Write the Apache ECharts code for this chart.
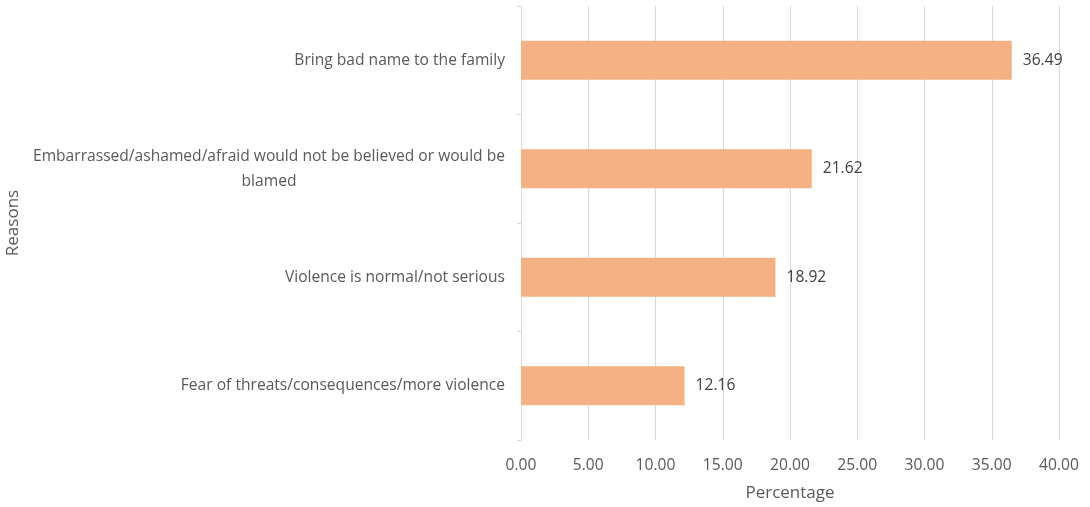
<!DOCTYPE html>
<html>
<head>
<meta charset="utf-8">
<script src="https://cdn.jsdelivr.net/npm/echarts@6/dist/echarts.min.js"></script>
<style>
  html, body { margin: 0; padding: 0; background: #fff; }
  #chart { width: 1090px; height: 507px; }
</style>
</head>
<body>
<div id="chart"></div>
<script>
// top to bottom as shown in the picture
const reasons = [
  'Bring bad name to the family',
  'Embarrassed/ashamed/afraid would not be believed or would be\nblamed',
  'Violence is normal/not serious',
  'Fear of threats/consequences/more violence'
]
const percentages = [36.49, 21.62, 18.92, 12.16]

const textColor = '#595959'
const lineColor = '#d9d9d9'
const fontFamily = '"Open Sans", "Liberation Sans", sans-serif'
const labelSize = 15.6

const chart = echarts.init(document.getElementById('chart'))
chart.setOption({
  animation: false,
  textStyle: { fontFamily: fontFamily },
  grid: {
    left: 521,
    right: 31,
    top: 6,
    bottom: 66,
    containLabel: false
  },
  xAxis: {
    type: 'value',
    min: 0,
    max: 40,
    interval: 5,
    name: 'Percentage',
    nameLocation: 'middle',
    nameGap: 45,
    nameTextStyle: { color: textColor, fontSize: 17, fontFamily: fontFamily },
    axisLine: { show: false },
    axisTick: { show: false },
    axisLabel: {
      color: textColor,
      fontSize: labelSize,
      margin: 18,
      formatter: v => v.toFixed(2)
    },
    splitLine: { show: true, lineStyle: { color: lineColor, width: 1 } }
  },
  yAxis: {
    type: 'category',
    inverse: true,
    data: reasons,
    name: 'Reasons',
    nameLocation: 'middle',
    nameGap: 499,
    nameTextStyle: { color: textColor, fontSize: 17, fontFamily: fontFamily },
    axisLine: { show: true, lineStyle: { color: lineColor, width: 1 } },
    axisTick: { show: true, length: 4, lineStyle: { color: lineColor } },
    axisLabel: {
      color: textColor,
      fontSize: labelSize,
      margin: 16,
      lineHeight: 25,
      formatter: v => v.split('\n').map(s => '{c|' + s + '}').join('\n'),
      rich: {
        c: { align: 'center', color: textColor, fontSize: labelSize, fontFamily: fontFamily, lineHeight: 25 }
      }
    },
    splitLine: { show: false }
  },
  series: [{
    type: 'bar',
    data: percentages,
    barWidth: 39,
    itemStyle: { color: '#f4b183' },
    label: {
      show: true,
      position: 'right',
      distance: 11,
      color: '#404040',
      fontSize: labelSize,
      fontFamily: fontFamily,
      formatter: p => p.value.toFixed(2)
    }
  }]
})
</script>
</body>
</html>
